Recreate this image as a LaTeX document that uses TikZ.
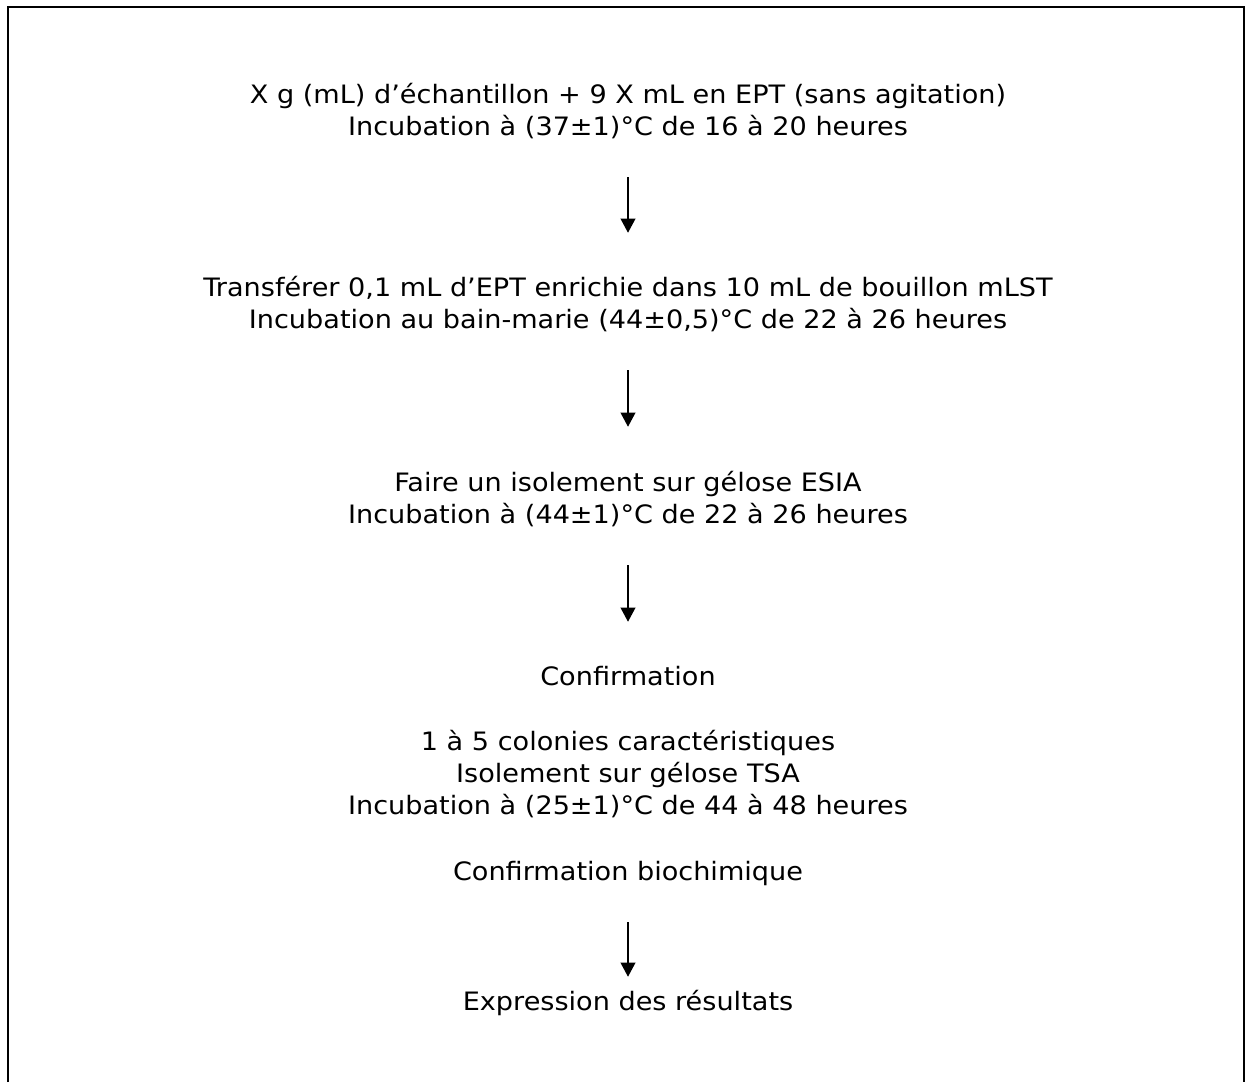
\documentclass[tikz,border=0pt]{standalone}
\usepackage{fontspec}
\setmainfont[FakeStretch=1.07]{DejaVu Sans}
\usetikzlibrary{arrows.meta}
\begin{document}
\begin{tikzpicture}[x=0.75pt,y=-0.75pt,
  txt/.style={anchor=base,inner sep=0pt,text height=14.25pt,text depth=3.75pt,
    font=\fontsize{19pt}{24pt}\selectfont},
  arr/.style={line width=1.1pt,-{Triangle[width=11pt,length=10.5pt]},
    shorten <=27.75pt,shorten >=33pt},
  frame/.style={line width=1.5pt}]
\useasboundingbox (0,0) rectangle (1245,1082);
\draw[frame] (8,1082) -- (8,7) -- (1244,7) -- (1244,1082);
\node[txt] (l1) at (628,103) {X g (mL) d’échantillon + 9 X mL en EPT (sans agitation)};
\node[txt] (l2) at (628,135) {Incubation à (37±1)°C de 16 à 20 heures};
\node[txt] (l3) at (628,296) {Transférer 0,1 mL d’EPT enrichie dans 10 mL de bouillon mLST};
\node[txt] (l4) at (628,328) {Incubation au bain-marie (44±0,5)°C de 22 à 26 heures};
\node[txt] (l5) at (628,491) {Faire un isolement sur gélose ESIA};
\node[txt] (l6) at (628,523) {Incubation à (44±1)°C de 22 à 26 heures};
\node[txt] (l7) at (628,685) {Confirmation};
\node[txt] (l8) at (628,750) {1 à 5 colonies caractéristiques};
\node[txt] (l9) at (628,782) {Isolement sur gélose TSA};
\node[txt] (l10) at (628,814) {Incubation à (25±1)°C de 44 à 48 heures};
\node[txt] (l11) at (628,880) {Confirmation biochimique};
\node[txt] (l12) at (628,1010) {Expression des résultats};
\draw[arr] (l2) -- (l3);
\draw[arr,shorten >=33.75pt] (l4) -- (l5);
\draw[arr] (l6) -- (l7);
\draw[arr,shorten >=10.5pt] (l11) -- (l12);
\end{tikzpicture}
\end{document}
